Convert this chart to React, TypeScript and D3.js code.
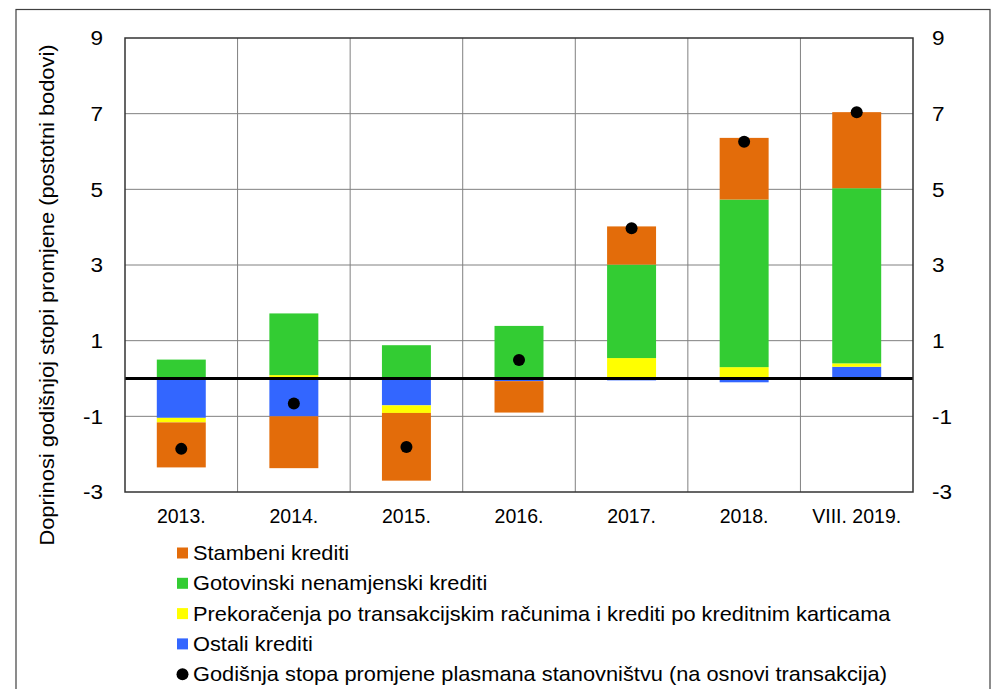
import * as d3 from "d3"

const categories = ["2013.", "2014.", "2015.", "2016.", "2017.", "2018.", "VIII. 2019."]

// contributions, percentage points
const stambeni = [-1.19, -1.37, -1.79, -0.83, 1.01, 1.63, 2.01]
const gotovinski = [0.5, 1.63, 0.88, 1.37, 2.47, 4.43, 4.63]
const prekoracenja = [-0.12, 0.09, -0.2, 0.02, 0.54, 0.3, 0.09]
const ostali = [-1.04, -1.0, -0.71, -0.07, -0.05, -0.1, 0.31]
const ukupno = [-1.86, -0.66, -1.81, 0.49, 3.97, 6.26, 7.04]

const yTicks = [-3, -1, 1, 3, 5, 7, 9]

const seriesNames = [
  "Stambeni krediti",
  "Gotovinski nenamjenski krediti",
  "Prekoračenja po transakcijskim računima i krediti po kreditnim karticama",
  "Ostali krediti",
]
const dotName = "Godišnja stopa promjene plasmana stanovništvu (na osnovi transakcija)"

const colors: Record<string, string> = {
  stambeni: "#e36c0a",
  gotovinski: "#33cc33",
  prekoracenja: "#ffff00",
  ostali: "#3366ff",
}

const W = 993
const H = 689
const margin = { top: 38, right: 80, bottom: 197, left: 125 }
const font = "'Liberation Sans', Arial, sans-serif"

export default function App() {
  const innerW = W - margin.left - margin.right
  const innerH = H - margin.top - margin.bottom

  const rows = categories.map((c, i) => ({
    cat: c,
    ostali: ostali[i],
    prekoracenja: prekoracenja[i],
    gotovinski: gotovinski[i],
    stambeni: stambeni[i],
  }))

  // stacked outward from zero: ostali, prekoracenja, gotovinski, stambeni
  const keys = ["ostali", "prekoracenja", "gotovinski", "stambeni"]
  const stacked = d3
    .stack<any>()
    .keys(keys)
    .offset(d3.stackOffsetDiverging)(rows)

  const x = d3.scaleBand().domain(categories).range([0, innerW]).paddingInner(0.565).paddingOuter(0.2825)
  const xStep = innerW / categories.length
  const y = d3.scaleLinear().domain([-3, 9]).range([innerH, 0])

  const legendItems = [
    { label: seriesNames[0], color: colors.stambeni },
    { label: seriesNames[1], color: colors.gotovinski },
    { label: seriesNames[2], color: colors.prekoracenja },
    { label: seriesNames[3], color: colors.ostali },
  ]

  return (
    <svg
      width={W}
      height={H}
      style={{ position: "absolute", left: 0, top: 0, background: "#fff" }}
      fontFamily={font}
    >
      <rect x={16} y={9.5} width={974} height={700} fill="#fff" stroke="#404040" strokeWidth={1.2} />
      <g transform={`translate(${margin.left},${margin.top})`}>
        {/* grid */}
        {yTicks.slice(1, -1).map((t) => (
          <line key={t} x1={0} x2={innerW} y1={y(t)} y2={y(t)} stroke="#808080" strokeWidth={1} />
        ))}
        {categories.slice(1).map((c, i) => (
          <line key={c} x1={xStep * (i + 1)} x2={xStep * (i + 1)} y1={0} y2={innerH} stroke="#808080" strokeWidth={1} />
        ))}

        {/* bars */}
        {stacked.map((s) => (
          <g key={s.key} fill={colors[s.key]}>
            {s.map((d, i) => (
              <rect
                key={i}
                x={x(categories[i])}
                width={x.bandwidth()}
                y={y(Math.max(d[0], d[1]))}
                height={Math.abs(y(d[0]) - y(d[1]))}
              />
            ))}
          </g>
        ))}

        {/* zero line */}
        <line x1={0} x2={innerW} y1={y(0)} y2={y(0)} stroke="#000" strokeWidth={3} />

        {/* dots */}
        {ukupno.map((v, i) => (
          <circle key={i} cx={x(categories[i])! + x.bandwidth() / 2} cy={y(v)} r={6} fill="#000" />
        ))}

        <rect x={0} y={0} width={innerW} height={innerH} fill="none" stroke="#333" strokeWidth={1.5} />

        {/* y ticks */}
        {yTicks.map((t) => (
          <text
            key={"l" + t}
            transform={`translate(-22,${y(t)}) scale(1.1,1)`}
            dy="0.35em"
            textAnchor="end"
            fontSize={20.5}
            fill="#000"
          >
            {t}
          </text>
        ))}
        {yTicks.map((t) => (
          <text
            key={"r" + t}
            transform={`translate(${innerW + 19},${y(t)}) scale(1.1,1)`}
            dy="0.35em"
            textAnchor="start"
            fontSize={20.5}
            fill="#000"
          >
            {t}
          </text>
        ))}

        {/* x labels */}
        {categories.map((c) => (
          <text
            key={c}
            x={x(c)! + x.bandwidth() / 2}
            y={innerH + 31}
            textAnchor="middle"
            fontSize={19.5}
            fill="#000"
          >
            {c}
          </text>
        ))}
      </g>

      <text
        transform={`translate(54,295) rotate(-90) scale(1.05,1)`}
        textAnchor="middle"
        fontSize={20.8}
        fill="#000"
      >
        Doprinosi godišnjoj stopi promjene (postotni bodovi)
      </text>

      {/* legend */}
      <g transform="translate(177,553)">
        {legendItems.map((d, i) => (
          <g key={d.label} transform={`translate(0,${i * 30.3})`}>
            <rect x={0} y={-5.5} width={11} height={11} fill={d.color} />
            <text transform="translate(16,0) scale(1.09,1)" dy="0.35em" fontSize={20} fill="#000">
              {d.label}
            </text>
          </g>
        ))}
        <g transform={`translate(0,${4 * 30.3})`}>
          <circle cx={5.5} cy={0} r={6} fill="#000" />
          <text transform="translate(16,0) scale(1.09,1)" dy="0.35em" fontSize={20} fill="#000">
            {dotName}
          </text>
        </g>
      </g>
    </svg>
  )
}
